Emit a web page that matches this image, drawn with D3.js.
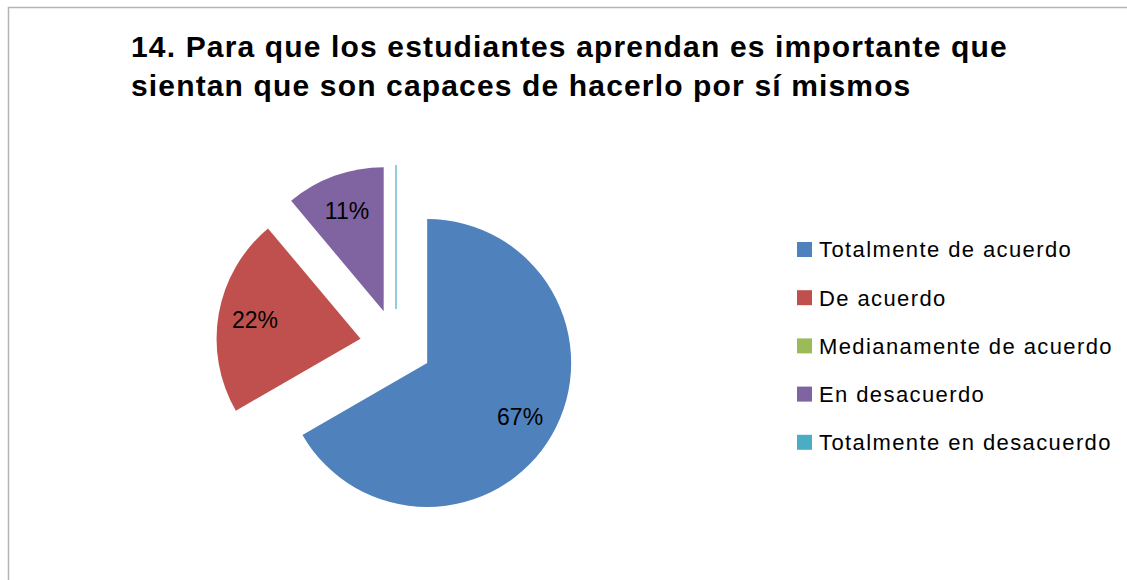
<!DOCTYPE html>
<html lang="es">
<head>
    <meta charset="UTF-8">
    <title>14. Para que los estudiantes aprendan</title>
    <script src="https://cdn.jsdelivr.net/npm/d3@7"></script>
    <style>
        body { margin: 0; background: #fff; }
        #chart svg { display: block; }
    </style>
</head>
<body>
<div id="chart"></div>
<script>

    // Data
    const categories = ["Totalmente de acuerdo", "De acuerdo", "Medianamente de acuerdo", "En desacuerdo", "Totalmente en desacuerdo"];
    const values = [6, 2, 0, 1, 0];
    const colors = ["#4F81BD", "#C0504D", "#9BBB59", "#8064A2", "#4BACC6"];
    const titleLines = ["14. Para que los estudiantes aprendan es importante que", "sientan que son capaces de hacerlo por sí mismos"];

    const width = 1127;
    const height = 580;

    const cx = 396, cy = 345;
    const radius = 144;
    const explode = 36;

    const svg = d3.select("#chart").append("svg")
        .attr("width", width)
        .attr("height", height)
        .attr("viewBox", [0, 0, width, height]);

    // chart area frame
    svg.append("rect")
        .attr("x", 8.5)
        .attr("y", 7.5)
        .attr("width", width + 20)
        .attr("height", height + 20)
        .attr("fill", "#fff")
        .attr("stroke", "#b4b4b4")
        .attr("stroke-width", 1.5);

    // title
    svg.append("text")
        .attr("font-family", "Liberation Sans, Arial, sans-serif")
        .attr("font-weight", "bold")
        .attr("font-size", 30)
        .attr("letter-spacing", 1.15)
        .attr("fill", "#000")
        .selectAll("tspan")
        .data(titleLines)
        .join("tspan")
        .attr("x", 131)
        .attr("y", (d, i) => 57 + i * 39)
        .text(d => d);

    const total = d3.sum(values);
    const pie = d3.pie().sort(null).value(d => d.value);
    const arcs = pie(categories.map((c, i) => ({name: c, value: values[i], color: colors[i]})));

    const arc = d3.arc().innerRadius(0).outerRadius(radius);
    const labelArc = d3.arc().innerRadius(radius * 0.745).outerRadius(radius * 0.745);

    const shift = d => {
        const a = (d.startAngle + d.endAngle) / 2;
        return [Math.sin(a) * explode, -Math.cos(a) * explode];
    };

    const g = svg.append("g").attr("transform", `translate(${cx},${cy})`);

    const slices = g.selectAll("g.slice")
        .data(arcs)
        .join("g")
        .attr("class", "slice")
        .attr("transform", d => `translate(${shift(d)})`);

    slices.filter(d => d.value > 0)
        .append("path")
        .attr("d", arc)
        .attr("fill", d => d.data.color);

    // empty slice at the closing edge shows as a thin radial line
    slices.filter(d => d.value === 0 && d.endAngle > 2 * Math.PI - 1e-6)
        .append("line")
        .attr("x1", 0).attr("y1", 0)
        .attr("x2", d => Math.sin(d.startAngle) * radius)
        .attr("y2", d => -Math.cos(d.startAngle) * radius)
        .attr("stroke", d => d.data.color)
        .attr("stroke-width", 1.2);

    slices.filter(d => d.value > 0)
        .append("text")
        .attr("transform", d => `translate(${labelArc.centroid(d)})`)
        .attr("text-anchor", "middle")
        .attr("dy", "0.36em")
        .attr("font-family", "Liberation Sans, Arial, sans-serif")
        .attr("font-size", 23)
        .attr("fill", "#000")
        .text(d => Math.round(d.value / total * 100) + "%");

    // legend
    const legend = svg.append("g")
        .selectAll("g")
        .data(categories)
        .join("g")
        .attr("transform", (d, i) => `translate(797,${249.5 + i * 48.2})`);

    legend.append("rect")
        .attr("x", 0)
        .attr("y", -7.5)
        .attr("width", 15)
        .attr("height", 15)
        .attr("fill", (d, i) => colors[i]);

    legend.append("text")
        .attr("x", 22)
        .attr("y", 7.8)
        .attr("font-family", "Liberation Sans, Arial, sans-serif")
        .attr("font-size", 22)
        .attr("letter-spacing", 1.4)
        .attr("fill", "#000")
        .text(d => d);

</script>
</body>
</html>
